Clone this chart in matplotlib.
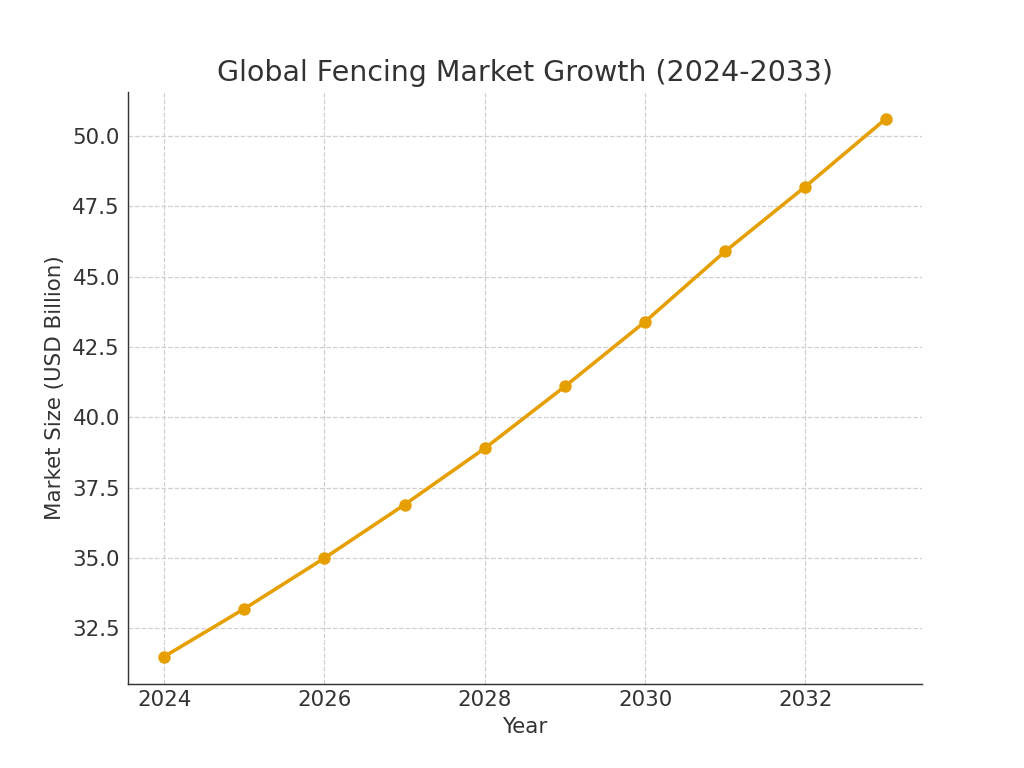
import matplotlib.pyplot as plt

years = [2024, 2025, 2026, 2027, 2028, 2029, 2030, 2031, 2032, 2033]
market_size = [31.5, 33.2, 35.0, 36.9, 38.9, 41.1, 43.4, 45.9, 48.2, 50.6]

text_color = '#333333'
plt.rcParams['text.color'] = text_color
plt.rcParams['axes.labelcolor'] = text_color
plt.rcParams['xtick.color'] = text_color
plt.rcParams['ytick.color'] = text_color

fig, ax = plt.subplots(figsize=(8, 6), dpi=128)

ax.plot(years, market_size, marker='o', color='#E69F00', linewidth=2, markersize=6)

ax.set_title('Global Fencing Market Growth (2024-2033)', fontsize=16)
ax.set_xlabel('Year', fontsize=12)
ax.set_ylabel('Market Size (USD Billion)', fontsize=12)
ax.tick_params(axis='y', labelsize=12, length=0, pad=4.5)
ax.tick_params(axis='x', labelsize=12, length=0, pad=3.5)

ax.grid(True, linestyle='--', color='#d0d0d0', linewidth=0.7)
ax.spines['top'].set_visible(False)
ax.spines['right'].set_visible(False)
ax.spines['left'].set_color(text_color)
ax.spines['bottom'].set_color(text_color)

fig.savefig('out.png', dpi=128)
